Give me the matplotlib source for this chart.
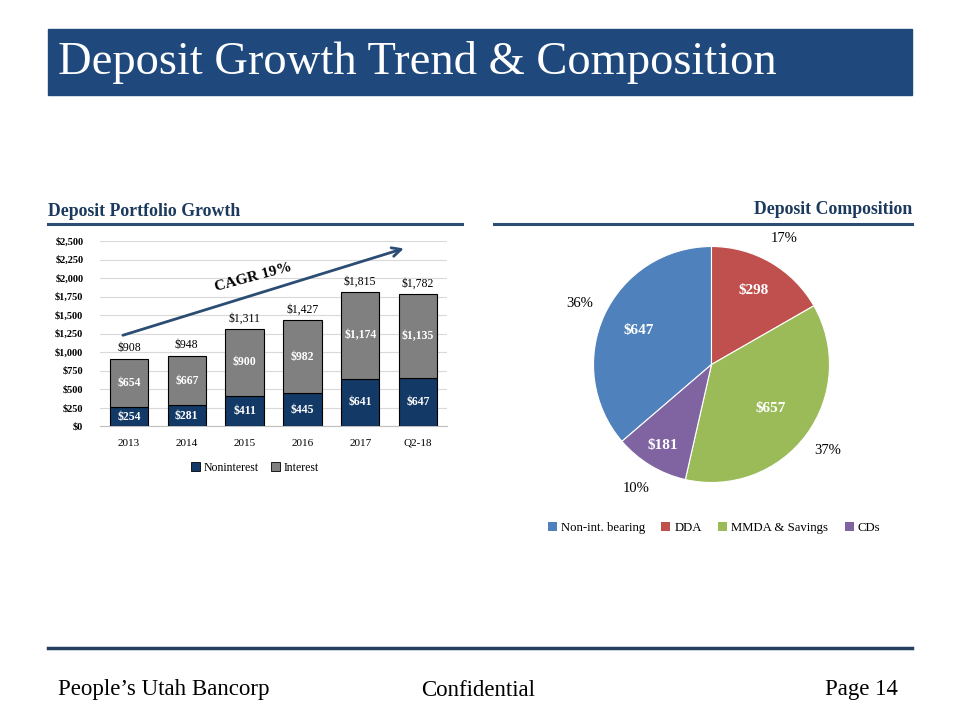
import matplotlib
matplotlib.use("Agg")
import matplotlib.pyplot as plt
from matplotlib.patches import Rectangle, Patch
from matplotlib.lines import Line2D
import numpy as np

plt.rcParams['font.family'] = ['Liberation Serif', 'DejaVu Serif']

# 막대 데이터 (백만 달러)
years = ["2013", "2014", "2015", "2016", "2017", "Q2-18"]
noninterest = [254, 281, 411, 445, 641, 647]
interest = [654, 667, 900, 982, 1174, 1135]
totals = [908, 948, 1311, 1427, 1815, 1782]
y_ticks = [0, 250, 500, 750, 1000, 1250, 1500, 1750, 2000, 2250, 2500]

# 파이 데이터
pie_labels = ["Non-int. bearing", "DDA", "MMDA & Savings", "CDs"]
pie_values = [647, 298, 657, 181]
pie_pcts = ["36%", "17%", "37%", "10%"]

NAVY = "#133A66"
GRAY = "#808080"
BAR_BLUE = "#1F497D"
HEAD = "#1C3A5E"
RULE = "#2C4E72"
PIE_COLORS = ["#4F81BD", "#C0504D", "#9BBB59", "#8064A2"]

W, H = 960, 720
fig = plt.figure(figsize=(9.6, 7.2), dpi=100)

def fx(px):
    return px / W

def fy(py):
    return 1 - py / H

# 제목 바
fig.patches.append(Rectangle((fx(48), fy(95)), fx(864), 66 / H,
                             transform=fig.transFigure, color=BAR_BLUE, zorder=0))
fig.text(fx(58), fy(63), "Deposit Growth Trend & Composition", color="white",
         fontsize=33.5, va="center", ha="left")

# 섹션 제목 + 밑줄
fig.text(fx(48), fy(211), "Deposit Portfolio Growth", color=HEAD, fontsize=12.8,
         fontweight="bold", va="center", ha="left")
fig.text(fx(912), fy(209), "Deposit Composition", color=HEAD, fontsize=12.8,
         fontweight="bold", va="center", ha="right")
fig.add_artist(Line2D([fx(48), fx(462)], [fy(224), fy(224)], color=RULE, lw=2.2))
fig.add_artist(Line2D([fx(494), fx(912)], [fy(224), fy(224)], color=RULE, lw=2.2))

# 하단 라인 + 푸터
fig.add_artist(Line2D([fx(48), fx(912)], [fy(648), fy(648)], color="#243F60", lw=2.5))
fig.text(fx(58), fy(690), "People\u2019s Utah Bancorp", fontsize=16.5, va="center", ha="left")
fig.text(fx(478), fy(690), "Confidential", fontsize=16.5, va="center", ha="center")
fig.text(fx(898), fy(690), "Page 14", fontsize=16.5, va="center", ha="right")

# 1) 막대 그래프
ax1 = fig.add_axes([fx(100), fy(426), fx(347), 185 / H])
x = np.arange(len(years))
bw = 0.66
ax1.bar(x, noninterest, bw, color=NAVY, edgecolor="black", linewidth=0.8, zorder=3)
ax1.bar(x, interest, bw, bottom=noninterest, color=GRAY, edgecolor="black",
        linewidth=0.8, zorder=3)
for i in range(len(years)):
    ax1.text(x[i], noninterest[i] / 2, f"${noninterest[i]:,}", color="white",
             fontsize=8.5, fontweight="bold", ha="center", va="center", zorder=4)
    ax1.text(x[i], noninterest[i] + interest[i] / 2, f"${interest[i]:,}", color="white",
             fontsize=8.5, fontweight="bold", ha="center", va="center", zorder=4)
    ax1.text(x[i], totals[i] + 60, f"${totals[i]:,}", fontsize=8.5,
             ha="center", va="bottom", zorder=4)
ax1.set_xlim(-0.5, len(years) - 0.5)
ax1.set_ylim(0, 2500)
ax1.set_yticks(y_ticks)
ax1.set_yticklabels([f"${v:,}" for v in y_ticks], fontsize=7.5, fontweight="bold")
ax1.set_xticks(x)
ax1.set_xticklabels(years, fontsize=8)
ax1.tick_params(axis="y", length=0, pad=12)
ax1.tick_params(axis="x", length=0, pad=9)
ax1.grid(axis="y", color="#D9D9D9", lw=0.8, zorder=0)
for s in ["top", "right", "left"]:
    ax1.spines[s].set_visible(False)
ax1.spines["bottom"].set_color("#BFBFBF")
ax1.annotate("", xy=(4.8, 2410), xytext=(-0.15, 1215),
             arrowprops=dict(arrowstyle="->", color="#2B4C73", lw=2, mutation_scale=16),
             zorder=5)
ax1.text(2.15, 2010, "CAGR 19%", fontsize=11, fontweight="bold", rotation=15,
         ha="center", va="center", zorder=5)

fig.legend(handles=[Patch(facecolor=NAVY, edgecolor="black", lw=0.6, label="Noninterest"),
                    Patch(facecolor=GRAY, edgecolor="black", lw=0.6, label="Interest")],
           loc="center", bbox_to_anchor=(fx(255), fy(468)), ncol=2, frameon=False,
           fontsize=8.5, handlelength=0.8, handleheight=0.8, handletextpad=0.3,
           columnspacing=1.0)

# 2) 파이 차트
R = 118
half = 150
ax2 = fig.add_axes([fx(711.5 - half), fy(364.5 + half), fx(2 * half), 2 * half / H])
start = 90 + pie_values[0] / sum(pie_values) * 360
wedges, _ = ax2.pie(pie_values, colors=PIE_COLORS, startangle=start, counterclock=False,
                    radius=1, wedgeprops=dict(edgecolor="white", linewidth=0.8))
ax2.set_xlim(-half / R, half / R)
ax2.set_ylim(-half / R, half / R)
ax2.set_aspect("equal")
ax2.axis("off")
inner_r = [0.68, 0.72, 0.62, 0.8]
for w, v, p, r in zip(wedges, pie_values, pie_pcts, inner_r):
    ang = np.deg2rad((w.theta1 + w.theta2) / 2)
    ax2.text(r * np.cos(ang), r * np.sin(ang), f"${v}", color="white", fontsize=11,
             fontweight="bold", ha="center", va="center")
    ax2.text(1.23 * np.cos(ang), 1.23 * np.sin(ang), p, fontsize=10.5,
             ha="center", va="center")

fig.legend(handles=[Patch(facecolor=c, label=l) for c, l in zip(PIE_COLORS, pie_labels)],
           loc="center", bbox_to_anchor=(fx(714), fy(528)), ncol=4, frameon=False,
           fontsize=9.2, handlelength=0.7, handleheight=0.7, handletextpad=0.3,
           columnspacing=1.3)

fig.savefig("out.png", dpi=100)
